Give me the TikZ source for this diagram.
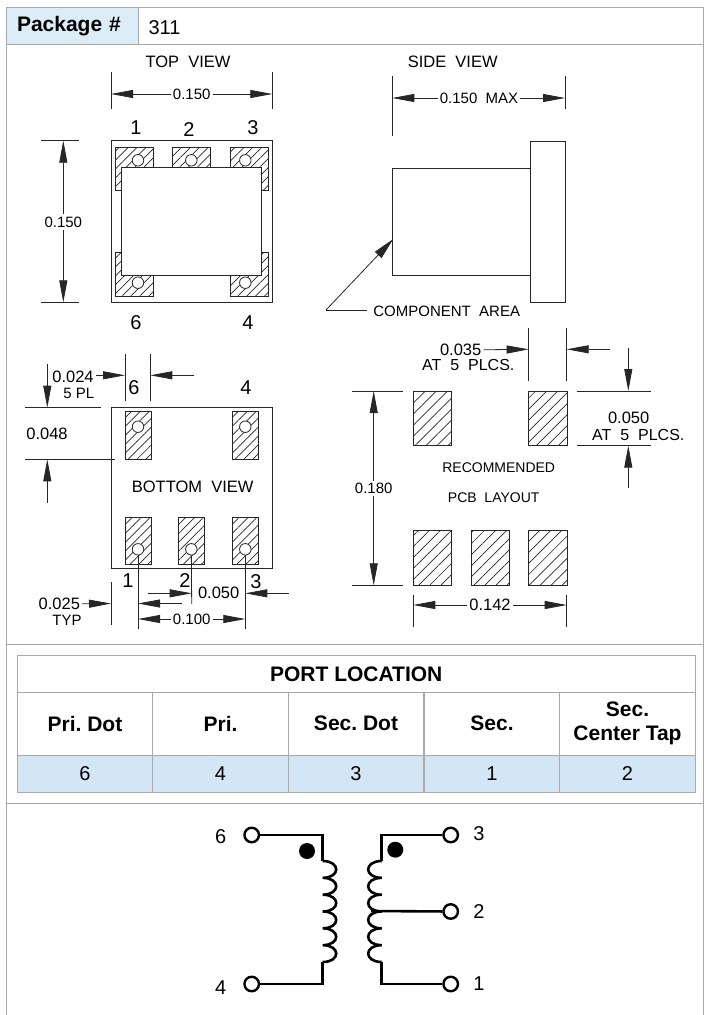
\documentclass[tikz,border=0pt]{standalone}
\usepackage{fontspec}
\usepackage{xcolor}
\setmainfont{Liberation Sans}
\frenchspacing
\usetikzlibrary{arrows.meta,patterns.meta}
\definecolor{frame_gray}{HTML}{A8A8A8}
\definecolor{head_blue}{HTML}{DDEDF8}
\definecolor{row_blue}{HTML}{D2E6F5}
\tikzset{
	% The boxes of the sheet
	panel/.style={
		draw=frame_gray,rectangle,line width=1pt,inner sep=0pt
	},
	% The table cells
	cell/.style={
		panel,font=\fontsize{20}{23}\selectfont,align=center,minimum width=135.5pt
	},
	head_cell/.style={
		cell,font=\fontsize{21}{24}\selectfont\bfseries,minimum height=63pt
	},
	value_cell/.style={
		cell,fill=row_blue,minimum height=37pt
	},
	% The text of the outline drawing
	dim_text/.style={
		font=\fontsize{15}{15}\selectfont,inner sep=2pt
	},
	wide_text/.style={
		font=\fontsize{16.5}{16.5}\selectfont,inner sep=2pt
	},
	note_text/.style={
		font=\fontsize{16}{16}\selectfont,inner sep=2pt
	},
	view_text/.style={
		font=\fontsize{16.5}{16.5}\selectfont,inner sep=1pt
	},
	pin_text/.style={
		font=\fontsize{20}{20}\selectfont,inner sep=0pt
	},
	% The plain lines and the arrows of the dimensions
	dim_line/.style={
		draw=black!85,line width=.8pt
	},
	dim_arrow/.style={
		dim_line,-{Triangle[length=22pt,width=8pt]}
	},
	% The solder pads
	pad/.style={
		draw=black!85,line width=.8pt,pattern={Lines[angle=45,distance=6.3pt,line width=.7pt]},pattern color=black!85
	},
	pad_box/.style={
		pad,rectangle,inner sep=0pt
	},
	land_box/.style={
		draw=black!85,line width=.8pt,rectangle,inner sep=0pt,minimum width=38.4pt,minimum height=54.7pt,
		pattern={Lines[angle=45,distance=7.8pt,line width=.7pt]},pattern color=black!85
	},
	pin_circle/.style={
		draw=black!85,circle,fill=white,line width=.8pt,inner sep=0pt,minimum size=11.5pt
	},
	% The schematic
	wire/.style={
		draw=black,line width=2.6pt,line join=miter
	},
	terminal/.style={
		draw=black,circle,fill=white,line width=2.4pt,inner sep=0pt,minimum size=14.5pt
	},
	phase_dot/.style={
		circle,fill=black,inner sep=0pt,minimum size=16pt
	},
}

\begin{document}
\begin{tikzpicture}[x=1pt,y=-1pt]
		\useasboundingbox (0,0) rectangle (707,1015);

		% The sheet
		\node [panel,minimum width=697pt,minimum height=36.5pt] (Title Row) at (354.5,25.75) {};
		\node [panel,minimum width=697pt,minimum height=600pt] (Drawing Panel) at (354.5,344) {};
		\node [panel,minimum width=697pt,minimum height=159pt] (Table Panel) at (354.5,723.5) {};
		\draw [frame_gray,line width=1pt] (6,1015) -- (6,803) -- (703,803) -- (703,1015);
		\node [panel,fill=head_blue,minimum height=36.5pt,text width=110pt,inner xsep=11pt,font=\fontsize{21}{24}\selectfont\bfseries] (Package Cell) at (72,25.75) {Package \#};
		\node [font=\fontsize{20}{23}\selectfont,inner sep=0pt] (Package Value) at (164.5,27.3) {311};

		% Top view
		\node [view_text] (Top View) at (188,62) {TOP\ \ VIEW};
		\draw [pad] (115.3,147) -- (153.7,147) -- (153.7,170) -- (125,170) -- (125,190.7) -- (115.3,190.7) -- cycle;
		\draw [pad] (230.3,147) -- (268.3,147) -- (268.3,190.7) -- (258,190.7) -- (258,170) -- (230.3,170) -- cycle;
		\draw [pad] (115.3,296) -- (153.7,296) -- (153.7,272) -- (125,272) -- (125,252.3) -- (115.3,252.3) -- cycle;
		\draw [pad] (230.3,296) -- (268.3,296) -- (268.3,252.3) -- (258,252.3) -- (258,272) -- (230.3,272) -- cycle;
		\node [pad_box,minimum width=38.4pt,minimum height=22pt] (Top Pad 2) at (191.5,158) {};
		\node [draw=black!85,rectangle,line width=.8pt,inner sep=0pt,minimum width=161.3pt,minimum height=161.6pt] (Top Body) at (191.65,221.5) {};
		\node [pin_circle] (Top Pin 1) at (138,160.3) {};
		\node [pin_circle] (Top Pin 2) at (191.3,160.3) {};
		\node [pin_circle] (Top Pin 3) at (245.3,160.3) {};
		\node [pin_circle] (Top Pin 6) at (138,282.7) {};
		\node [pin_circle] (Top Pin 4) at (245.3,282.7) {};
		\node [draw=black!85,fill=white,rectangle,line width=.8pt,inner sep=0pt,minimum width=140pt,minimum height=107.6pt] (Top Cover) at (191.7,221.5) {};
		\node [pin_text] (Top Label 1) at (136,128) {1};
		\node [pin_text] (Top Label 2) at (189,130) {2};
		\node [pin_text] (Top Label 3) at (253,128) {3};
		\node [pin_text] (Top Label 6) at (136,323) {6};
		\node [pin_text] (Top Label 4) at (248,323) {4};

		% The dimensions of the top view
		\node [dim_text] (Top Width) at (191.7,94) {0.150};
		\coordinate (Top Width L) at (111,94);
		\coordinate (Top Width R) at (272.3,94);
		\draw [dim_arrow] (Top Width) -- (Top Width L);
		\draw [dim_arrow] (Top Width) -- (Top Width R);
		\draw [dim_line] (111,72) -- (111,108.7);
		\draw [dim_line] (272.3,72) -- (272.3,108.7);
		\node [dim_text] (Top Height) at (63.3,222) {0.150};
		\coordinate (Top Height U) at (63.3,140.7);
		\coordinate (Top Height D) at (63.3,302.3);
		\draw [dim_arrow] (Top Height) -- (Top Height U);
		\draw [dim_arrow] (Top Height) -- (Top Height D);
		\draw [dim_line] (41,140.7) -- (79,140.7);
		\draw [dim_line] (41,302.3) -- (79,302.3);

		% Side view
		\node [view_text] (Side View) at (452.7,62) {SIDE\ \ VIEW};
		\node [dim_text] (Side Width) at (479,98) {0.150\ \ MAX};
		\coordinate (Side Width L) at (392.3,98);
		\coordinate (Side Width R) at (565,98);
		\draw [dim_arrow] (Side Width) -- (Side Width L);
		\draw [dim_arrow] (Side Width) -- (Side Width R);
		\draw [dim_line] (392.3,76) -- (392.3,135.7);
		\draw [dim_line] (565,76) -- (565,108.7);
		\node [draw=black!85,rectangle,line width=.8pt,inner sep=0pt,minimum width=138pt,minimum height=107.3pt] (Side Body) at (461.3,221.65) {};
		\node [draw=black!85,rectangle,line width=.8pt,inner sep=0pt,minimum width=34.7pt,minimum height=161.3pt] (Side Base) at (547.65,221.65) {};
		\node [dim_text,inner sep=0pt] (Component Area) at (446.7,311) {COMPONENT\ \ AREA};
		\coordinate (Leader Knee) at (326,310);
		\coordinate (Leader Tip) at (393.3,239);
		\draw [dim_line] (Component Area) ++(-80,-1) -- (Leader Knee);
		\draw [dim_line,-{Triangle[length=22pt,width=9pt]}] (Leader Knee) -- (Leader Tip);

		% Bottom view
		\node [draw=black!85,rectangle,line width=.8pt,inner sep=0pt,minimum width=161.3pt,minimum height=161pt] (Bottom Body) at (191.65,488.2) {};
		\node [pad_box,minimum width=26pt,minimum height=48pt] (Bottom Pad 6) at (138,435.3) {};
		\node [pad_box,minimum width=26pt,minimum height=48pt] (Bottom Pad 4) at (245.7,435.3) {};
		\node [pad_box,minimum width=26pt,minimum height=47.7pt] (Bottom Pad 1) at (138,540.85) {};
		\node [pad_box,minimum width=26pt,minimum height=47.7pt] (Bottom Pad 2) at (191.3,540.85) {};
		\node [pad_box,minimum width=26pt,minimum height=47.7pt] (Bottom Pad 3) at (245.7,540.85) {};
		\node [pin_circle] (Bottom Pin 6) at (138,426.7) {};
		\node [pin_circle] (Bottom Pin 4) at (245.3,426.7) {};
		\node [pin_circle] (Bottom Pin 1) at (138,549.3) {};
		\node [pin_circle] (Bottom Pin 2) at (191.3,549.3) {};
		\node [pin_circle] (Bottom Pin 3) at (245.3,549.3) {};
		\node [view_text] (Bottom View) at (192.7,486.7) {BOTTOM\ \ VIEW};
		\node [pin_text] (Bottom Label 6) at (134,388) {6};
		\node [pin_text] (Bottom Label 4) at (246,388) {4};
		\node [pin_text] (Bottom Label 1) at (128,581) {1};
		\node [pin_text] (Bottom Label 2) at (185,581) {2};
		\node [pin_text] (Bottom Label 3) at (256,582) {3};

		% The dimensions of the bottom view
		\node [wide_text] (Pad Width) at (73,376.7) {0.024};
		\node [dim_text] (Pad Width Note) at (78.7,393) {5 PL};
		\coordinate (Pad Width L) at (125,375.3);
		\coordinate (Pad Width R) at (150.3,375.3);
		\coordinate (Pad Width End) at (194.3,375.3);
		\draw [dim_arrow] (Pad Width.east |- Pad Width L) -- (Pad Width L);
		\draw [dim_arrow] (Pad Width End) -- (Pad Width R);
		\draw [dim_line] (125,354) -- (125,401);
		\draw [dim_line] (150.3,354) -- (150.3,401);
		\node [wide_text] (Edge Gap) at (47,433.7) {0.048};
		\coordinate (Edge Gap U) at (47.3,364.3);
		\coordinate (Edge Gap T) at (47.3,407.7);
		\coordinate (Edge Gap D) at (47.3,502.7);
		\coordinate (Edge Gap B) at (47.3,459.3);
		\draw [dim_arrow] (Edge Gap U) -- (Edge Gap T);
		\draw [dim_arrow] (Edge Gap D) -- (Edge Gap B);
		\draw [dim_line] (25.3,407.7) -- (100.7,407.7);
		\draw [dim_line] (25.3,459.3) -- (115,459.3);
		\coordinate (Pin 1 End) at (138,629.3);
		\coordinate (Pin 2 End) at (191.7,604);
		\coordinate (Pin 3 End) at (245.3,629.3);
		\draw [dim_line] (Bottom Pin 1) -- (Pin 1 End);
		\draw [dim_line] (Bottom Pin 2) -- (Pin 2 End);
		\draw [dim_line] (Bottom Pin 3) -- (Pin 3 End);
		\node [wide_text] (Edge Pin) at (59.3,604) {0.025};
		\node [dim_text] (Edge Pin Note) at (67,620) {TYP};
		\coordinate (Edge Pin L) at (111,603.5);
		\coordinate (Edge Pin R) at (138,603.5);
		\coordinate (Edge Pin End) at (181.7,603.5);
		\draw [dim_arrow] (Edge Pin) -- (Edge Pin L);
		\draw [dim_arrow] (Edge Pin End) -- (Edge Pin R);
		\draw [dim_line] (111,582) -- (111,625);
		\node [wide_text] (Pin Pitch) at (218.7,593.3) {0.050};
		\coordinate (Pin Pitch Start) at (148.3,593.3);
		\coordinate (Pin Pitch L) at (191.7,593.3);
		\coordinate (Pin Pitch End) at (289,593.3);
		\coordinate (Pin Pitch R) at (245.3,593.3);
		\draw [dim_arrow] (Pin Pitch Start) -- (Pin Pitch L);
		\draw [dim_arrow] (Pin Pitch End) -- (Pin Pitch R);
		\node [dim_text] (Pin Span) at (191.7,619) {0.100};
		\coordinate (Pin Span L) at (138,619);
		\coordinate (Pin Span R) at (245.3,619);
		\draw [dim_arrow] (Pin Span) -- (Pin Span L);
		\draw [dim_arrow] (Pin Span) -- (Pin Span R);

		% Recommended layout
		\node [land_box] (Land 6) at (432.5,418.35) {};
		\node [land_box] (Land 4) at (547.7,418.35) {};
		\node [land_box] (Land 1) at (432.5,558) {};
		\node [land_box] (Land 2) at (490.15,558) {};
		\node [land_box] (Land 3) at (547.7,558) {};
		\node [font=\fontsize{14}{14}\selectfont,inner sep=0pt] (Recommended) at (498.7,467.3) {RECOMMENDED};
		\node [font=\fontsize{14}{14}\selectfont,inner sep=0pt] (Pcb Layout) at (493.7,497.7) {PCB\ \ LAYOUT};

		% The dimensions of the layout
		\node [wide_text] (Land Width) at (460.7,350) {0.035};
		\node [note_text] (Land Width Note) at (468.3,365.3) {AT\ \ 5\ \ PLCS.};
		\coordinate (Land Width L) at (528.7,349.3);
		\coordinate (Land Width R) at (566.7,349.3);
		\coordinate (Land Width End) at (610,349.3);
		\draw [dim_arrow] (Land Width) -- (Land Width L);
		\draw [dim_arrow] (Land Width End) -- (Land Width R);
		\draw [dim_line] (528.7,328) -- (528.7,381);
		\draw [dim_line] (566.7,328) -- (566.7,381);
		\node [wide_text] (Land Height) at (628.7,418.3) {0.050};
		\node [note_text] (Land Height Note) at (638.3,435) {AT\ \ 5\ \ PLCS.};
		\coordinate (Land Height U) at (628.3,348.3);
		\coordinate (Land Height T) at (628.3,391);
		\coordinate (Land Height D) at (628.3,488.3);
		\coordinate (Land Height B) at (628.3,445.7);
		\draw [dim_arrow] (Land Height U) -- (Land Height T);
		\draw [dim_arrow] (Land Height D) -- (Land Height B);
		\draw [dim_line] (576.7,391) -- (650.7,391);
		\draw [dim_line] (576.7,445.7) -- (650.7,445.7);
		\node [dim_text] (Land Span) at (373.7,488.3) {0.180};
		\coordinate (Land Span U) at (373.7,391);
		\coordinate (Land Span D) at (373.7,585.3);
		\draw [dim_arrow] (Land Span) -- (Land Span U);
		\draw [dim_arrow] (Land Span) -- (Land Span D);
		\draw [dim_line] (352,391) -- (403.3,391);
		\draw [dim_line] (352,585.3) -- (403.3,585.3);
		\node [wide_text] (Land Row) at (490,605) {0.142};
		\coordinate (Land Row L) at (413.3,605);
		\coordinate (Land Row R) at (566.7,605);
		\draw [dim_arrow] (Land Row) -- (Land Row L);
		\draw [dim_arrow] (Land Row) -- (Land Row R);
		\draw [dim_line] (413.3,595) -- (413.3,626.7);
		\draw [dim_line] (566.7,595) -- (566.7,626.7);

		% Port table
		\node [cell,font=\fontsize{21}{24}\selectfont\bfseries,minimum width=677.5pt,minimum height=37pt] (Port Location) at (356.25,673.8) {PORT LOCATION};
		\node [head_cell] (Pri Dot) at (85,723.6) {Pri. Dot};
		\node [head_cell] (Pri) at (220.5,723.6) {Pri.};
		\node [head_cell] (Sec Dot) at (356,723.6) {Sec. Dot};
		\node [head_cell] (Sec) at (492,723.6) {Sec.};
		\node [head_cell] (Center Tap) at (627.5,723.6) {Sec.\\Center Tap};
		\node [value_cell] (Pri Dot Port) at (85,773.5) {6};
		\node [value_cell] (Pri Port) at (220.5,773.5) {4};
		\node [value_cell] (Sec Dot Port) at (356,773.5) {3};
		\node [value_cell] (Sec Port) at (492,773.5) {1};
		\node [value_cell] (Center Tap Port) at (627.5,773.5) {2};

		% Schematic
		\node [terminal] (Term 6) at (251.7,835) {};
		\node [terminal] (Term 4) at (251.7,984) {};
		\node [terminal] (Term 3) at (450.7,835) {};
		\node [terminal] (Term 2) at (450.7,911.5) {};
		\node [terminal] (Term 1) at (450.7,984) {};
		\node [phase_dot] (Pri Phase) at (307,851) {};
		\node [phase_dot] (Sec Phase) at (395.3,849.7) {};
		\node [pin_text] (Term Label 6) at (220.7,837) {6};
		\node [pin_text] (Term Label 4) at (220.7,988) {4};
		\node [pin_text] (Term Label 3) at (479,834) {3};
		\node [pin_text] (Term Label 2) at (479,912) {2};
		\node [pin_text] (Term Label 1) at (479,984) {1};
		\coordinate (Pri Top) at (322.7,835);
		\coordinate (Pri Start) at (322.7,861);
		\coordinate (Pri End) at (322.7,962);
		\coordinate (Pri Bottom) at (322.7,984);
		\coordinate (Sec Top) at (381.7,835);
		\coordinate (Sec Start) at (381.7,861);
		\coordinate (Sec End) at (381.7,962);
		\coordinate (Sec Bottom) at (381.7,984);
		\coordinate (Sec Tap) at (371,911);
		\draw [wire] (Term 6) -- (Pri Top) -- (Pri Start);
		\draw [wire] (Term 4) -- (Pri Bottom) -- (Pri End);
		\draw [wire] (Term 3) -- (Sec Top) -- (Sec Start);
		\draw [wire] (Term 1) -- (Sec Bottom) -- (Sec End);
		\draw [wire] (Term 2) -- (Sec Tap);
		\draw [wire] (Pri Start)
			.. controls +(18,0) and +(18,0) .. ++(0,16.83)
			.. controls +(18,0) and +(18,0) .. ++(0,16.83)
			.. controls +(18,0) and +(18,0) .. ++(0,16.83)
			.. controls +(18,0) and +(18,0) .. ++(0,16.83)
			.. controls +(18,0) and +(18,0) .. ++(0,16.83)
			.. controls +(18,0) and +(18,0) .. (Pri End);
		\draw [wire] (Sec Start)
			.. controls +(-18,0) and +(-18,0) .. ++(0,16.83)
			.. controls +(-18,0) and +(-18,0) .. ++(0,16.83)
			.. controls +(-18,0) and +(-18,0) .. ++(0,16.83)
			.. controls +(-18,0) and +(-18,0) .. ++(0,16.83)
			.. controls +(-18,0) and +(-18,0) .. ++(0,16.83)
			.. controls +(-18,0) and +(-18,0) .. (Sec End);
	\end{tikzpicture}
\end{document}
